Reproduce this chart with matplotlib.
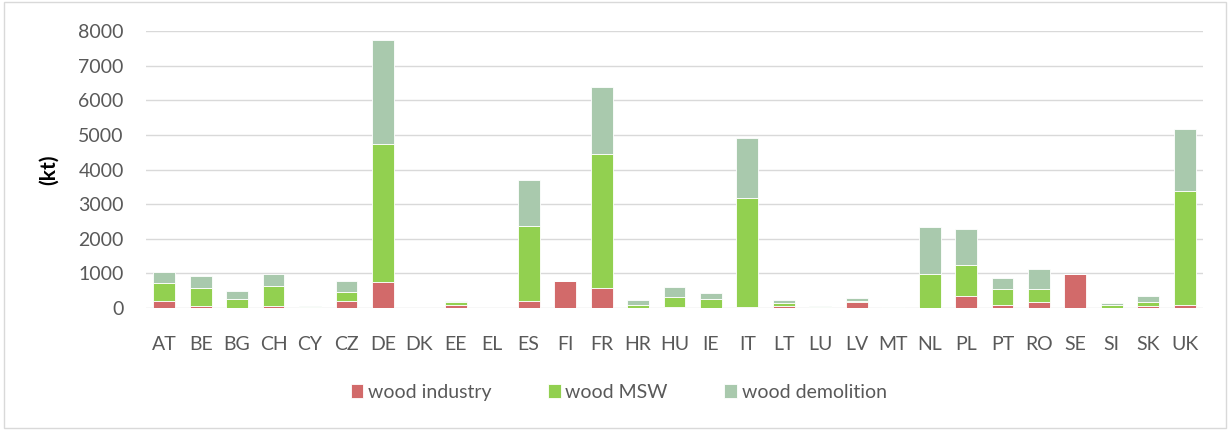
import matplotlib
matplotlib.use("Agg")
import matplotlib.pyplot as plt
import matplotlib.patches as mpatches
import numpy as np

# ── Data (kt) ─────────────────────────────────────
countries = ["AT", "BE", "BG", "CH", "CY", "CZ", "DE", "DK", "EE", "EL",
             "ES", "FI", "FR", "HR", "HU", "IE", "IT", "LT", "LU", "LV",
             "MT", "NL", "PL", "PT", "RO", "SE", "SI", "SK", "UK"]
wood_industry = [190, 60, 10, 70, 0, 190, 740, 0, 100, 0,
                 190, 770, 570, 10, 20, 10, 20, 70, 0, 180,
                 0, 0, 360, 100, 180, 980, 10, 70, 100]
wood_msw = [540, 510, 250, 580, 40, 260, 4010, 0, 60, 0,
            2180, 0, 3890, 90, 290, 260, 3150, 70, 20, 30,
            5, 980, 870, 460, 370, 0, 90, 110, 3280]
wood_demolition = [300, 340, 220, 320, 25, 320, 3000, 0, 50, 0,
                   1330, 0, 1910, 130, 300, 165, 1735, 100, 35, 90,
                   30, 1350, 1060, 300, 580, 0, 35, 170, 1790]

series_names = ["wood industry", "wood MSW", "wood demolition"]
colors = ["#D26A6A", "#92D050", "#A9C9AD"]

plt.rcParams["font.family"] = ["Lato", "DejaVu Sans"]
text_color = "#595959"

fig = plt.figure(figsize=(12.3, 4.3), dpi=100)
ax = fig.add_axes([0.1187, 0.2837, 0.8593, 0.6442])

# faint frame around the whole picture
fig.patches.append(mpatches.Rectangle(
    (0.003, 0.005), 0.994, 0.99, transform=fig.transFigure,
    fill=False, edgecolor="#D9D9D9", linewidth=1))

x = np.arange(len(countries))
bottom = np.zeros(len(countries))
for vals, name, col in zip([wood_industry, wood_msw, wood_demolition],
                           series_names, colors):
    ax.bar(x, vals, width=0.6, bottom=bottom, color=col, label=name,
           edgecolor="white", linewidth=0.6, zorder=3)
    bottom += np.array(vals)

ax.set_xlim(-0.5, len(countries) - 0.5)
ax.set_ylim(0, 8000)
ax.set_yticks(range(0, 8001, 1000))
ax.set_xticks(x)
ax.set_xticklabels(countries)
ax.grid(axis="y", color="#D9D9D9", linewidth=1, zorder=0)
for s in ax.spines.values():
    s.set_visible(False)
ax.tick_params(axis="both", length=0, labelsize=14, labelcolor=text_color)
ax.tick_params(axis="x", pad=20)
ax.tick_params(axis="y", pad=16)
ax.set_ylabel("(kt)", fontsize=15, fontweight="bold", color="black", labelpad=14)

fig.legend(loc="center", bbox_to_anchor=(0.503, 0.087), ncol=3, frameon=False,
           fontsize=14, labelcolor=text_color, handlelength=0.65, handleheight=0.7,
           handletextpad=0.25, columnspacing=2.9)

plt.savefig("out.png", dpi=100)
plt.close()
